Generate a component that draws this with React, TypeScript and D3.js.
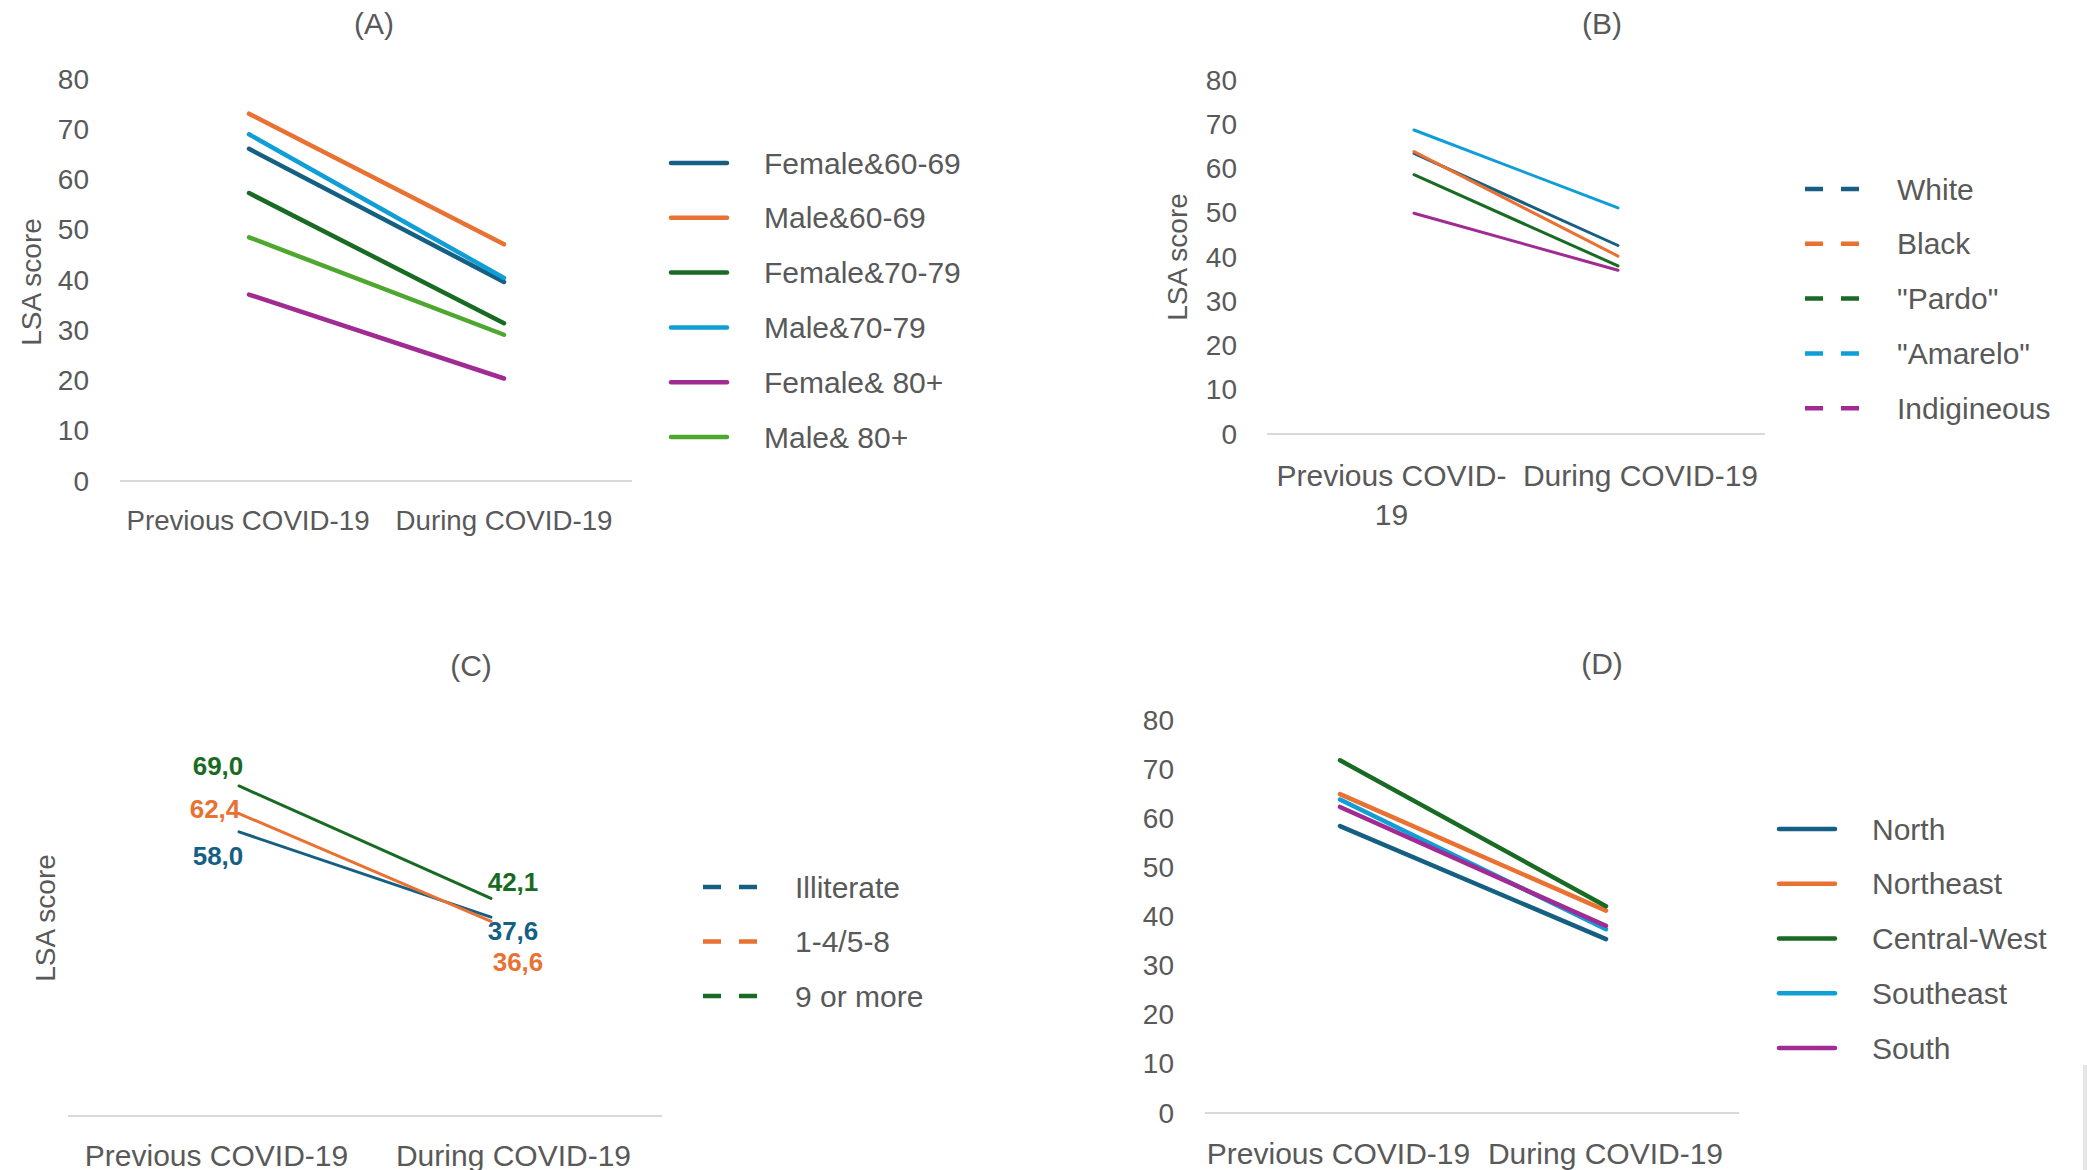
import * as d3 from 'd3';
import React from 'react';

const categories = ['Previous COVID-19', 'During COVID-19'];

const groupsA = ['Female&60-69', 'Male&60-69', 'Female&70-79', 'Male&70-79', 'Female& 80+', 'Male& 80+'];
const scoresA = [[66.1, 39.6], [73.1, 47.1], [57.3, 31.4], [69.0, 40.4], [37.1, 20.4], [48.5, 29.1]];

const groupsB = ['White', 'Black', '"Pardo"', '"Amarelo"', 'Indigineous'];
const scoresB = [[63.4, 42.6], [63.8, 40.2], [58.6, 38.0], [68.7, 51.1], [49.9, 37.0]];

const groupsC = ['Illiterate', '1-4/5-8', '9 or more'];
const scoresC = [[58.0, 37.6], [62.4, 36.6], [69.0, 42.1]];

const groupsD = ['North', 'Northeast', 'Central-West', 'Southeast', 'South'];
const scoresD = [[58.4, 35.4], [64.9, 41.2], [71.8, 42.1], [63.8, 37.4], [62.3, 38.1]];

// office palette
const colors = ['#156082', '#E97132', '#196B24', '#0F9ED5', '#A02B93', '#4EA72E'];

// hand placed value labels in (C): [dx, dy] per series, per category
const labelNudgeC = [[[-21, 24], [22, 14]], [[-24, -5], [27, 41]], [[-21, -20], [22, -16]]];

const TEXT = '#595959';
const FONT = '"Liberation Sans", Arial, sans-serif';

const ctx = typeof document !== 'undefined' ? document.createElement('canvas').getContext('2d') : null;
function wrapLabel(text: string, size: number, max: number) {
    if (!ctx) return [text];
    ctx.font = `${size}px "Liberation Sans"`;
    if (ctx.measureText(text).width <= max) return [text];
    const i = text.lastIndexOf('-');
    return [text.slice(0, i + 1), text.slice(i + 1)];
}

const fmtComma = (v: number) => d3.format('.1f')(v).replace('.', ',');

type PanelCfg = {
    title: string; titleX: number; titleY: number;
    groups: string[]; scores: number[][];
    yDomain: [number, number]; yRange: [number, number];
    showTicks: boolean; tickX: number;
    axisX0: number; axisX1: number; axisY: number;
    lineRange: [number, number]; strokeW: number;
    catY: number; catSize: number; wrap?: boolean;
    yLabel?: { x: number; y: number };
    legend: { x0: number; x1: number; textX: number; y0: number; step: number; dashed: boolean };
    valueLabels?: boolean;
};

const panels: PanelCfg[] = [
    {
        title: '(A)', titleX: 374, titleY: 23, groups: groupsA, scores: scoresA,
        yDomain: [0, 80], yRange: [481, 79], showTicks: true, tickX: 89,
        axisX0: 120, axisX1: 632, axisY: 481, lineRange: [249, 504], strokeW: 4.5,
        catY: 520, catSize: 27.7, yLabel: { x: 31, y: 282 },
        legend: { x0: 671, x1: 727, textX: 764, y0: 163, step: 54.8, dashed: false },
    },
    {
        title: '(B)', titleX: 1602, titleY: 23, groups: groupsB, scores: scoresB,
        yDomain: [0, 80], yRange: [434, 80], showTicks: true, tickX: 1237,
        axisX0: 1267, axisX1: 1765, axisY: 434, lineRange: [1414, 1618], strokeW: 3,
        catY: 475, catSize: 30, wrap: true, yLabel: { x: 1177, y: 257 },
        legend: { x0: 1805, x1: 1859, textX: 1897, y0: 189, step: 54.8, dashed: true },
    },
    {
        title: '(C)', titleX: 471, titleY: 665, groups: groupsC, scores: scoresC,
        yDomain: [-10, 80], yRange: [1116, 740], showTicks: false, tickX: 0,
        axisX0: 68, axisX1: 662, axisY: 1116, lineRange: [239, 491], strokeW: 3,
        catY: 1155, catSize: 30, yLabel: { x: 45, y: 918 }, valueLabels: true,
        legend: { x0: 703, x1: 757, textX: 795, y0: 887, step: 54.5, dashed: true },
    },
    {
        title: '(D)', titleX: 1602, titleY: 663, groups: groupsD, scores: scoresD,
        yDomain: [0, 80], yRange: [1113, 720], showTicks: true, tickX: 1174,
        axisX0: 1205, axisX1: 1739, axisY: 1113, lineRange: [1340, 1606], strokeW: 4.5,
        catY: 1153, catSize: 30,
        legend: { x0: 1779, x1: 1835, textX: 1872, y0: 829, step: 54.75, dashed: false },
    },
];

function Panel({ p }: { p: PanelCfg }) {
    const y = d3.scaleLinear().domain(p.yDomain).range(p.yRange);
    const xBand = d3.scaleBand().domain(categories).range([p.axisX0, p.axisX1]);
    const xLine = d3.scalePoint().domain(categories).range(p.lineRange);
    const line = d3.line<number>()
        .x((_, i) => xLine(categories[i]) as number)
        .y(d => y(d));

    return (
        <g fontFamily={FONT} fill={TEXT}>
            <text x={p.titleX} y={p.titleY} fontSize={30} textAnchor="middle" dominantBaseline="central">{p.title}</text>

            {p.showTicks && y.ticks(8).map(t => (
                <text key={t} x={p.tickX} y={y(t)} fontSize={28} textAnchor="end" dominantBaseline="central">{t}</text>
            ))}

            {p.yLabel && (
                <text transform={`translate(${p.yLabel.x},${p.yLabel.y}) rotate(-90)`} fontSize={28}
                    textAnchor="middle" dominantBaseline="central">LSA score</text>
            )}

            <line x1={p.axisX0} x2={p.axisX1} y1={p.axisY} y2={p.axisY} stroke="#d9d9d9" strokeWidth={2} />

            {categories.map(c => {
                const rows = p.wrap ? wrapLabel(c, p.catSize, xBand.bandwidth()) : [c];
                return rows.map((r, j) => (
                    <text key={c + j} x={(xBand(c) as number) + xBand.bandwidth() / 2} y={p.catY + j * 39}
                        fontSize={p.catSize} textAnchor="middle" dominantBaseline="central">{r}</text>
                ));
            })}

            {p.scores.map((s, i) => (
                <path key={i} d={line(s) || ''} fill="none" stroke={colors[i]} strokeWidth={p.strokeW}
                    strokeLinecap="round" />
            ))}

            {p.valueLabels && p.scores.map((s, i) => s.map((v, j) => (
                <text key={`${i}-${j}`} x={(xLine(categories[j]) as number) + labelNudgeC[i][j][0]}
                    y={y(v) + labelNudgeC[i][j][1]} fontSize={26} fontWeight="bold" fill={colors[i]}
                    textAnchor="middle" dominantBaseline="central">{fmtComma(v)}</text>
            )))}

            {p.groups.map((g, i) => {
                const ly = p.legend.y0 + i * p.legend.step;
                return (
                    <g key={g}>
                        <line x1={p.legend.x0} x2={p.legend.x1} y1={ly} y2={ly} stroke={colors[i]} strokeWidth={4.5}
                            strokeLinecap={p.legend.dashed ? 'butt' : 'round'}
                            strokeDasharray={p.legend.dashed ? '18 18' : undefined} />
                        <text x={p.legend.textX} y={ly} fontSize={30} dominantBaseline="central">{g}</text>
                    </g>
                );
            })}
        </g>
    );
}

export default function App() {
    return (
        <svg width={2087} height={1170} style={{ position: 'absolute', left: 0, top: 0, background: '#fff' }}>
            <rect width={2087} height={1170} fill="#fff" />
            {panels.map(p => <Panel key={p.title} p={p} />)}
            <rect x={2083} y={1065} width={4} height={105} fill="#e6e6e6" />
        </svg>
    );
}
